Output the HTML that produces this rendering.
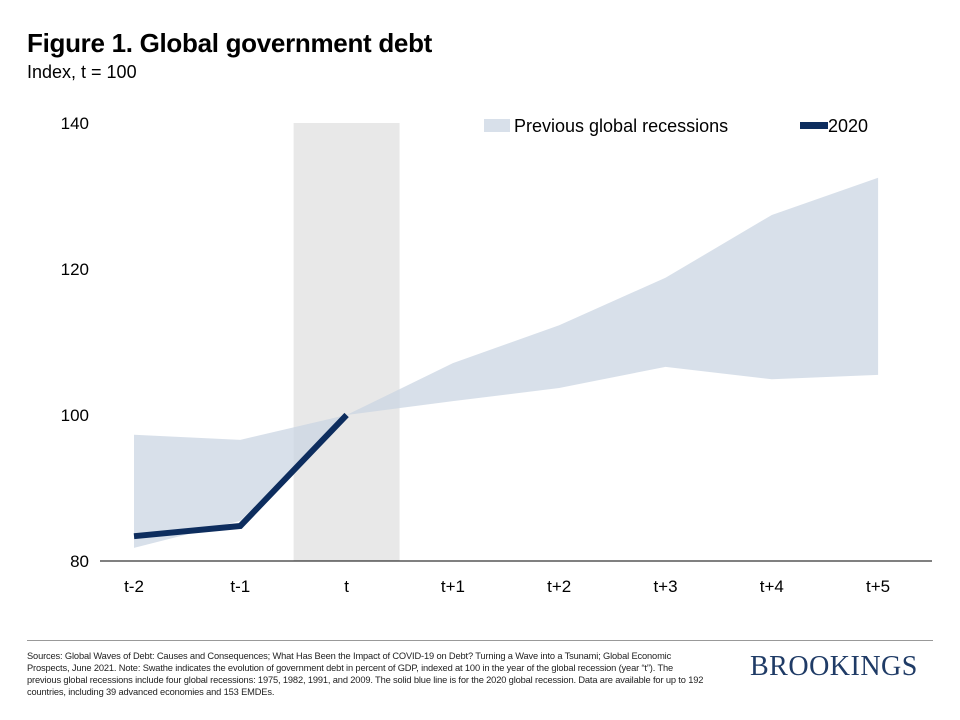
<!DOCTYPE html>
<html><head><meta charset="utf-8"><style>
body{margin:0;width:960px;height:720px;background:#fff;font-family:"Liberation Sans",sans-serif;overflow:hidden;position:relative}
.t{position:absolute;margin:0}
</style></head><body>
<div class="t" style="left:27px;top:28px;font-size:26px;font-weight:bold;color:#000;letter-spacing:-0.3px">Figure 1. Global government debt</div>
<div class="t" style="left:27px;top:62px;font-size:18px;color:#000">Index, t = 100</div>
<svg id="c" width="960" height="640" style="position:absolute;left:0;top:0"></svg>
<div class="t" style="left:27px;top:640px;width:906px;height:1px;background:#999"></div>
<div class="t" style="left:27px;top:650px;width:680px;font-size:9.3px;line-height:12px;color:#222;letter-spacing:-0.15px">Sources: Global Waves of Debt: Causes and Consequences; What Has Been the Impact of COVID-19 on Debt? Turning a Wave into a Tsunami; Global Economic Prospects, June 2021. Note: Swathe indicates the evolution of government debt in percent of GDP, indexed at 100 in the year of the global recession (year “t”). The previous global recessions include four global recessions: 1975, 1982, 1991, and 2009. The solid blue line is for the 2020 global recession. Data are available for up to 192 countries, including 39 advanced economies and 153 EMDEs.</div>
<div class="t" style="left:750px;top:651px;font-family:'Liberation Serif',serif;font-size:28px;color:#1f3b66;letter-spacing:0.5px">BROOKINGS</div>
<script>
const categories=["t-2","t-1","t","t+1","t+2","t+3","t+4","t+5"];
const bandUpper=[97.3,96.6,100,107.1,112.3,118.8,127.4,132.5];
const bandLower=[81.8,85.5,100,101.9,103.7,106.6,104.9,105.5];
const series2020=[83.4,84.8,100];
const yTicks=[80,100,120,140];
const svg=document.getElementById('c');const NS='http://www.w3.org/2000/svg';
const x=i=>134+i*106.3;const y=v=>561-(v-80)*7.3;
function mk(t,a){const e=document.createElementNS(NS,t);for(const k in a)e.setAttribute(k,a[k]);svg.appendChild(e);return e;}
let r=mk('rect',{x:x(2)-53,y:y(140),width:106,height:y(80)-y(140),fill:'#e8e8e8'});


let pts=categories.map((c,i)=>x(i)+','+y(bandUpper[i]));
for(let i=categories.length-1;i>=0;i--)pts.push(x(i)+','+y(bandLower[i]));
let b=mk('polygon',{points:pts.join(' '),fill:'#c9d4e2','fill-opacity':0.72});


let l=mk('polyline',{points:series2020.map((v,i)=>x(i)+','+y(v)).join(' '),fill:'none',stroke:'#0d2d5e','stroke-width':6});


let ax=mk('line',{x1:100,x2:932,y1:561,y2:561,stroke:'#000','stroke-width':1});


yTicks.forEach(v=>{let t=mk('text',{x:89,y:y(v)+6,'font-size':17,fill:'#000','text-anchor':'end'});t.textContent=v;

});
categories.forEach((c,i)=>{let t=mk('text',{x:x(i),y:592,'font-size':17,fill:'#000','text-anchor':'middle'});t.textContent=c;

});
let s1=mk('rect',{x:484,y:119,width:26,height:13,fill:'#c9d4e2','fill-opacity':0.72});


let t1=mk('text',{x:514,y:132,'font-size':18});t1.textContent='Previous global recessions';


let s2=mk('rect',{x:800,y:122,width:28,height:7,fill:'#0d2d5e'});


let t2=mk('text',{x:828,y:132,'font-size':18});t2.textContent='2020';


</script>
</body></html>
